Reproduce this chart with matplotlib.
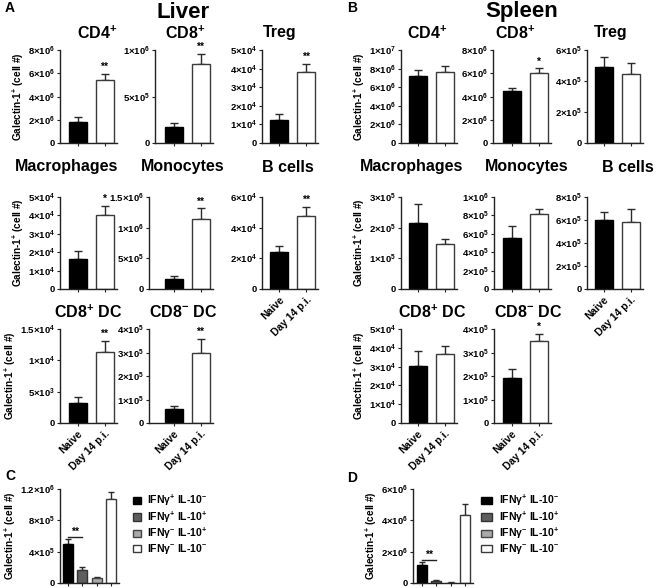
import math
import matplotlib
matplotlib.use("Agg")
import matplotlib.pyplot as plt
from matplotlib.ticker import FuncFormatter, MultipleLocator

plt.rcParams['font.family'] = ['Liberation Sans', 'DejaVu Sans']
plt.rcParams['font.weight'] = 'bold'
plt.rcParams['axes.linewidth'] = 1.0
plt.rcParams['mathtext.fontset'] = 'custom'
plt.rcParams['mathtext.bf'] = 'Liberation Sans:bold'
plt.rcParams['mathtext.rm'] = 'Liberation Sans:bold'
plt.rcParams['mathtext.default'] = 'bf'

# ---------------- data ----------------
panel_names = ["CD4$^{+}$", "CD8$^{+}$", "Treg", "Macrophages", "Monocytes", "B cells",
               "CD8$^{+}$ DC", "CD8$^{-}$ DC"]
groups = ["Naive", "Day 14 p.i."]

liver_naive = [1.8e6, 1.7e5, 1.25e4, 1.64e4, 1.62e5, 2.42e4, 3.2e3, 5.9e4]
liver_naive_err = [0.45e6, 0.45e5, 0.3e4, 0.45e4, 0.54e5, 0.38e4, 0.9e3, 1.2e4]
liver_day14 = [5.45e6, 8.45e5, 3.8e4, 4.03e4, 1.144e6, 4.75e4, 1.136e4, 2.97e5]
liver_day14_err = [0.5e6, 1.1e5, 0.45e4, 0.5e4, 1.73e5, 0.6e4, 0.18e4, 0.62e5]
liver_sig = ["**", "**", "**", "*", "**", "**", "**", "**"]
liver_ymax = [8e6, 1e6, 5e4, 5e4, 1.5e6, 6e4, 1.5e4, 4e5]
liver_ystep = [2e6, 5e5, 1e4, 1e4, 5e5, 2e4, 5e3, 1e5]

spleen_naive = [7.23e6, 4.49e6, 4.92e5, 2.14e5, 5.53e5, 6.0e5, 3.02e4, 1.93e5]
spleen_naive_err = [0.61e6, 0.26e6, 0.61e5, 0.64e5, 1.33e5, 0.72e5, 0.83e4, 0.36e5]
spleen_day14 = [7.63e6, 5.99e6, 4.42e5, 1.47e5, 8.1e5, 5.86e5, 3.67e4, 3.47e5]
spleen_day14_err = [0.64e6, 0.43e6, 0.76e5, 0.16e5, 0.58e5, 1.14e5, 0.43e4, 0.32e5]
spleen_sig = ["", "*", "", "", "", "", "", "*"]
spleen_ymax = [1e7, 8e6, 6e5, 3e5, 1e6, 8e5, 5e4, 4e5]
spleen_ystep = [2e6, 2e6, 2e5, 1e5, 2e5, 2e5, 1e4, 1e5]

cyto_labels = ["IFNγ$^{+}$ IL-10$^{-}$", "IFNγ$^{+}$ IL-10$^{+}$", "IFNγ$^{-}$ IL-10$^{+}$",
               "IFNγ$^{-}$ IL-10$^{-}$"]
liver_cyto = [4.97e5, 1.71e5, 0.64e5, 1.071e6]
liver_cyto_err = [0.64e5, 0.3e5, 0.13e5, 0.86e5]
spleen_cyto = [1.14e6, 0.13e6, 0.03e6, 4.35e6]
spleen_cyto_err = [0.21e6, 0.04e6, 0.01e6, 0.71e6]
cyto_ymax = [1.2e6, 6e6]
cyto_ystep = [4e5, 2e6]

# ---------------- layout (pixels) ----------------
W, H = 660, 588
fig = plt.figure(figsize=(W / 100, H / 100), dpi=100)

# (spine x, first bar center x) per panel, rows (top, bottom)
liver_pos = [(60, 77.5), (155, 173.5), (262, 279), (60, 77.5), (149, 173.5), (262, 279), (60, 77.5), (149, 173.5)]
spleen_pos = [(401, 417.5), (493, 511.5), (587, 603.5), (401, 417.5), (494, 511.5), (587, 603.5), (401, 417.5), (494, 511.5)]
row_y = [(50, 143), (50, 143), (50, 143), (197, 289), (197, 289), (197, 289), (329, 423), (329, 423)]
liver_title_xy = [(97, 33), (185, 33), (280, 33), (67, 167), (183, 167), (288, 167), (88, 312), (183, 312)]
spleen_title_xy = [(427, 33), (515, 33), (611, 33), (412, 167), (527, 167), (628, 167), (432, 312), (528, 312)]
first_col = [0, 3, 6]
xlabel_panels = [5, 6, 7]
YLAB = "Galectin-1$^{+}$ (cell #)"


def sci(v, pos):
    if v <= 0:
        return "0"
    e = int(math.floor(math.log10(v) + 1e-9))
    m = v / 10 ** e
    return "$%g{\\times}10^{%d}$" % (m, e)


def make_axes(spine_x, c1, top, bottom, nbars=2, spacing=27.0, right_pad=12):
    right = c1 + (nbars - 1) * spacing + right_pad
    ax = fig.add_axes([spine_x / W, 1 - bottom / H, (right - spine_x) / W, (bottom - top) / H])
    ax.set_xlim((spine_x - c1) / spacing, nbars - 1 + right_pad / spacing)
    for s in ["top", "right"]:
        ax.spines[s].set_visible(False)
    for s in ["left", "bottom"]:
        ax.spines[s].set_color("#222222")
    ax.tick_params(axis="both", direction="out", length=2.5, width=0.8, color="#222222",
                   labelsize=6.8, pad=1.2)
    return ax


def style_y(ax, ymax, step):
    ax.set_ylim(0, ymax)
    ax.yaxis.set_major_locator(MultipleLocator(step))
    ax.yaxis.set_major_formatter(FuncFormatter(sci))


def two_bar_panel(pos, ry, naive, naive_err, day14, day14_err, sig, ymax, step, title_xy, title, ylab, xlab):
    ax = make_axes(pos[0], pos[1], ry[0], ry[1])
    w = 18 / 27
    ax.bar([0, 1], [naive, day14], width=w, color=["black", "white"],
           edgecolor=["black", "#3a3a3a"], linewidth=1.0, zorder=2)
    ax.errorbar([0, 1], [naive, day14], yerr=[[0, 0], [naive_err, day14_err]], fmt="none",
                ecolor="#2a2a2a", elinewidth=1.0, capsize=3, capthick=1.0, zorder=1)
    if sig:
        ax.text(1, day14 + day14_err + ymax * 0.02, sig, ha="center", va="bottom", fontsize=7.5)
    style_y(ax, ymax, step)
    ax.set_xticks([0, 1])
    if xlab:
        ax.set_xticklabels(groups, rotation=45, ha="right", rotation_mode="anchor",
                           fontsize=7.5, fontweight="bold")
    else:
        ax.set_xticklabels([])
    if ylab:
        ax.set_ylabel(YLAB, fontsize=7.2, fontweight="bold", labelpad=1.5)
    fig.text(title_xy[0] / W, 1 - title_xy[1] / H, title, ha="center", va="center",
             fontsize=11.5, fontweight="bold")
    return ax


for i in range(8):
    two_bar_panel(liver_pos[i], row_y[i], liver_naive[i], liver_naive_err[i], liver_day14[i],
                  liver_day14_err[i], liver_sig[i], liver_ymax[i], liver_ystep[i],
                  liver_title_xy[i], panel_names[i], i in first_col, i in xlabel_panels)
    two_bar_panel(spleen_pos[i], row_y[i], spleen_naive[i], spleen_naive_err[i], spleen_day14[i],
                  spleen_day14_err[i], spleen_sig[i], spleen_ymax[i], spleen_ystep[i],
                  spleen_title_xy[i], panel_names[i], i in first_col, i in xlabel_panels)

# ---------------- cytokine panels C and D ----------------
cyto_colors = ["black", "#5e5e5e", "#a9a9a9", "white"]
cyto_edges = ["black", "#333333", "#444444", "#3a3a3a"]
cyto_pos = [(60, 67.5), (413, 421.7)]
legend_xy = [(133, 493), (481, 493)]
handle_len = [0.75, 1.1]

for k, (vals, errs) in enumerate([(liver_cyto, liver_cyto_err), (spleen_cyto, spleen_cyto_err)]):
    ax = make_axes(cyto_pos[k][0], cyto_pos[k][1], 489, 583, nbars=4, spacing=14.5, right_pad=8)
    xs = list(range(4))
    bars = ax.bar(xs, vals, width=10 / 14.5, color=cyto_colors, edgecolor=cyto_edges,
                  linewidth=1.0, zorder=2)
    ax.errorbar(xs, vals, yerr=[[0] * 4, errs], fmt="none", ecolor="#2a2a2a",
                elinewidth=1.0, capsize=2.2, capthick=1.0, zorder=1)
    ymax = cyto_ymax[k]
    top = vals[0] + errs[0] + ymax * 0.02
    ax.plot([0, 1], [top, top], color="#222222", lw=1.0)
    ax.text(0.5, top, "**", ha="center", va="bottom", fontsize=7.5)
    style_y(ax, ymax, cyto_ystep[k])
    ax.set_xticks(xs)
    ax.set_xticklabels([])
    ax.set_ylabel(YLAB, fontsize=7.2, fontweight="bold", labelpad=1.5)
    ax.legend(bars.patches, cyto_labels, loc="upper left", frameon=False, fontsize=7.5,
              bbox_to_anchor=(legend_xy[k][0] / W, 1 - legend_xy[k][1] / H),
              bbox_transform=fig.transFigure, borderpad=0, borderaxespad=0,
              handlelength=handle_len[k], handleheight=0.7, handletextpad=0.6,
              labelspacing=0.1)

# ---------------- headings ----------------
fig.text(183 / W, 1 - 12 / H, "Liver", ha="center", va="center", fontsize=16, fontweight="bold")
fig.text(522 / W, 1 - 12 / H, "Spleen", ha="center", va="center", fontsize=16, fontweight="bold")
for lab, x, y in [("A", 5, 8), ("B", 347, 8), ("C", 5, 476), ("D", 347, 478)]:
    fig.text(x / W, 1 - y / H, lab, ha="left", va="center", fontsize=10, fontweight="bold")

plt.savefig("out.png", dpi=100)
